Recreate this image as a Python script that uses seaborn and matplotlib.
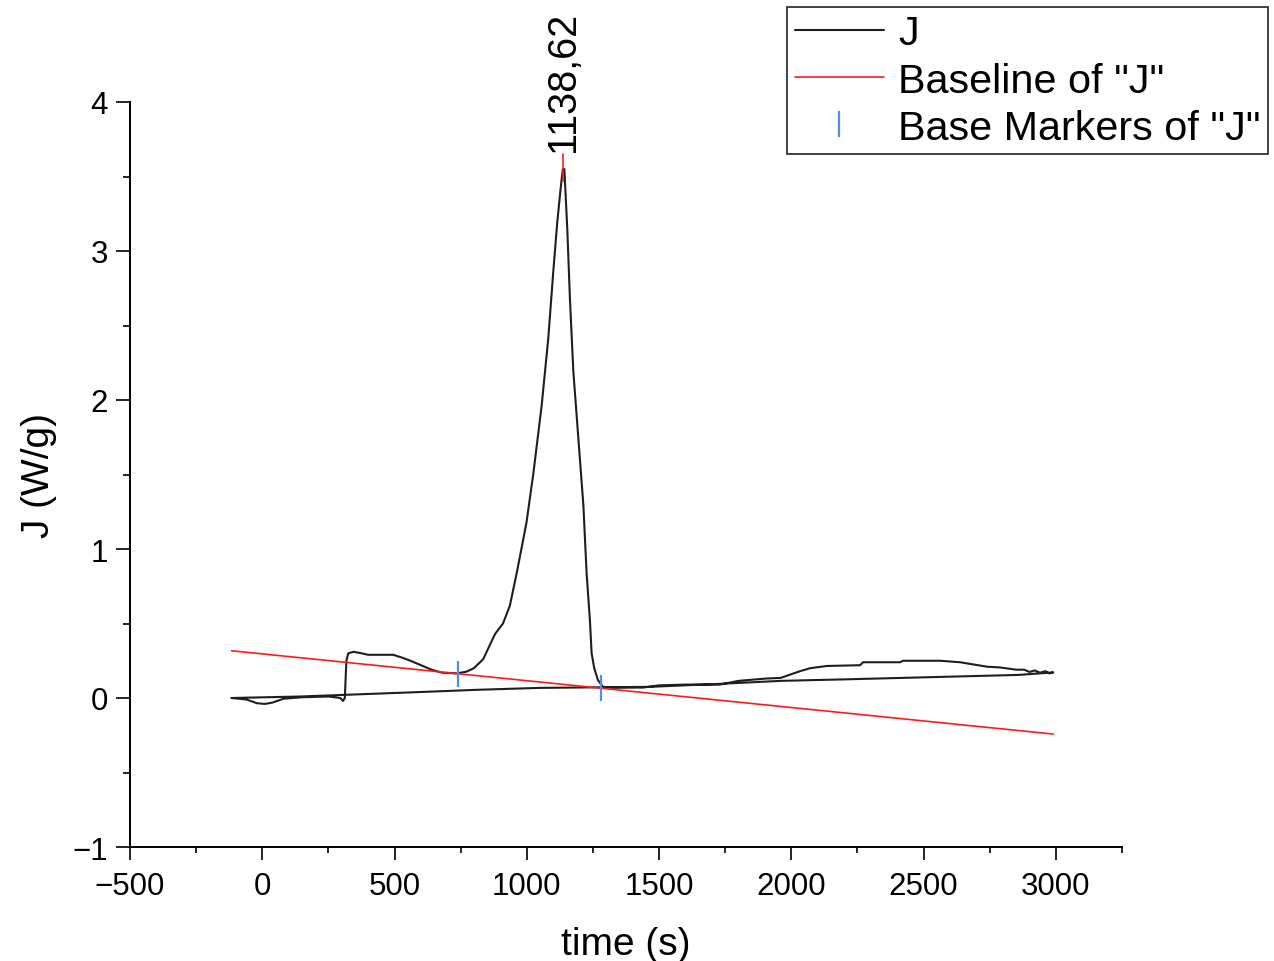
import matplotlib
matplotlib.use("Agg")
import matplotlib.pyplot as plt
import seaborn as sns
import pandas as pd
from matplotlib.ticker import AutoMinorLocator

# ---------------- data ----------------
time_s = [-116, -60, -20, 10, 40, 80, 150, 250, 295, 305, 312, 318, 325, 345, 375,
          400, 495, 530, 560, 600, 640, 680, 736, 772, 800, 835, 880, 910, 936, 962,
          985, 999, 1025, 1056, 1081, 1100, 1115, 1128, 1136, 1142, 1153, 1163, 1176,
          1195, 1214, 1226, 1239, 1245, 1255, 1269, 1288, 1320, 1440, 1500, 1600, 1730,
          1800, 1900, 1960, 2000, 2033, 2071, 2135, 2260, 2271, 2411, 2422, 2562, 2638,
          2740, 2789, 2850, 2880, 2900, 2920, 2940, 2960, 2975, 2990,
          2860, 2640, 2420, 2200, 1960, 1730, 1466, 1050, 811, 596, 369, 143, -116]
J_wg = [0.0, -0.01, -0.035, -0.04, -0.03, -0.005, 0.005, 0.01, 0.0, -0.02, 0.0, 0.25,
        0.30, 0.31, 0.30, 0.29, 0.29, 0.27, 0.25, 0.22, 0.19, 0.17, 0.165, 0.177, 0.20,
        0.26, 0.43, 0.50, 0.62, 0.84, 1.05, 1.18, 1.51, 1.96, 2.41, 2.86, 3.19, 3.42,
        3.55, 3.55, 3.15, 2.68, 2.19, 1.74, 1.29, 0.84, 0.51, 0.30, 0.20, 0.12, 0.075,
        0.07, 0.07, 0.085, 0.09, 0.09, 0.115, 0.13, 0.135, 0.16, 0.18, 0.20, 0.215,
        0.22, 0.24, 0.24, 0.25, 0.25, 0.24, 0.21, 0.205, 0.19, 0.19, 0.175, 0.185, 0.17,
        0.18, 0.165, 0.172,
        0.155, 0.145, 0.135, 0.125, 0.115, 0.095, 0.075, 0.068, 0.055, 0.04, 0.025, 0.01, 0.0]

baseline_t = [-116, 2990]
baseline_J = [0.317, -0.242]

marker_t = [741, 1281]
marker_J = [0.163, 0.066]

peak_x = 1138.62
peak_label = "1138,62"
peak_line_J = [3.47, 3.65]

x_ticks = [-500, 0, 500, 1000, 1500, 2000, 2500, 3000]
y_ticks = [-1, 0, 1, 2, 3, 4]

# ---------------- style ----------------
sns.set_theme(style="ticks")
plt.rcParams["font.family"] = ["Liberation Sans", "DejaVu Sans"]
plt.rcParams.update({
    "axes.linewidth": 1.4,
    "xtick.major.width": 1.2, "ytick.major.width": 1.2,
    "xtick.minor.width": 1.2, "ytick.minor.width": 1.2,
    "xtick.major.size": 9, "ytick.major.size": 10,
    "xtick.minor.size": 4.5, "ytick.minor.size": 5,
    "xtick.color": "black", "ytick.color": "black",
    "axes.edgecolor": "black",
    "text.color": "black", "axes.labelcolor": "black",
})

fig = plt.figure(figsize=(12.74, 9.62), dpi=100)
ax = fig.add_axes([130 / 1274, 1 - 848 / 962, (1122 - 130) / 1274, (848 - 103) / 962])

df = pd.DataFrame({"time": time_s, "J": J_wg})
sns.lineplot(data=df, x="time", y="J", sort=False, estimator=None, errorbar=None, ax=ax,
             color="#1e1e1e", linewidth=1.5, label="J")
sns.lineplot(x=baseline_t, y=baseline_J, ax=ax, estimator=None, errorbar=None,
             color="#ff1a1a", linewidth=1.2, label='Baseline of "J"')
sns.lineplot(x=marker_t, y=marker_J, ax=ax, estimator=None, errorbar=None,
             linestyle="none", marker="|",
             markersize=19, markeredgewidth=1.6, markeredgecolor="#4f8fe8",
             color="#4f8fe8", label='Base Markers of "J"')
sns.lineplot(x=[peak_x, peak_x], y=peak_line_J, ax=ax, estimator=None, errorbar=None,
             sort=False, color="#ff1a1a", linewidth=1.2, legend=False)

ax.annotate(peak_label, xy=(peak_x, peak_line_J[1]), xytext=(0, 2),
            textcoords="offset points", rotation=90, ha="center", va="bottom",
            fontsize=28.5, annotation_clip=False)

ax.set_xlim(-500, 3250)
ax.set_ylim(-1, 4)
ax.set_xticks(x_ticks)
ax.set_yticks(y_ticks)
ax.xaxis.set_minor_locator(AutoMinorLocator(2))
ax.yaxis.set_minor_locator(AutoMinorLocator(2))
ax.tick_params(axis="x", which="major", labelsize=22.5, pad=8)
ax.tick_params(axis="y", which="major", labelsize=22.5, pad=6)
sns.despine(ax=ax)

ax.set_xlabel("time (s)", fontsize=28, labelpad=18)
ax.set_ylabel("J (W/g)", fontsize=28, labelpad=11)

leg = ax.legend(loc="upper right", bbox_to_anchor=(1268 / 1274, 1 - 8 / 962),
                bbox_transform=fig.transFigure, borderaxespad=0, borderpad=0.18,
                handlelength=2.15, handletextpad=0.35, labelspacing=0.22,
                fontsize=29.8, frameon=True, fancybox=False, framealpha=1,
                edgecolor="#222222")
leg.get_frame().set_linewidth(1.2)

fig.savefig("out.png", dpi=100)
